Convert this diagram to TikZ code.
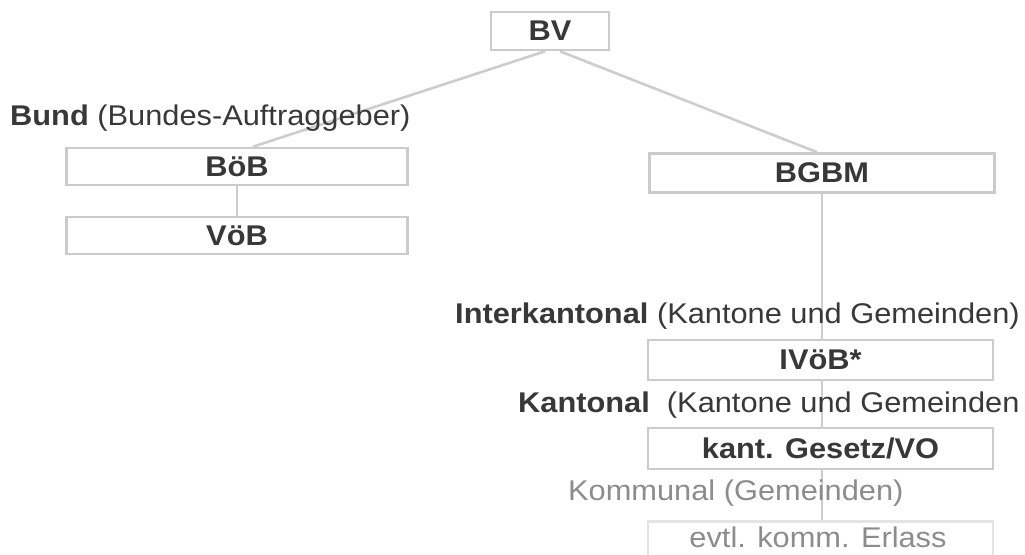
\documentclass[tikz,border=0pt]{standalone}
\usepackage{fontspec}
\setmainfont{Liberation Sans}[FakeStretch=1.08]
\usetikzlibrary{calc}
\definecolor{txt}{HTML}{383838}
\definecolor{lighttxt}{HTML}{8C8C8C}
\definecolor{frame}{HTML}{CBCBCB}
\definecolor{paleframe}{HTML}{E4E4E4}
\definecolor{conn}{HTML}{CDCDCD}
\tikzset{
  lawbox/.style={draw=frame, line width=2.6pt, fill=white, inner sep=0pt,
    text=txt, font=\fontsize{28.5}{32}\selectfont\bfseries},
  palebox/.style={draw=paleframe, line width=2.6pt, fill=white, inner sep=0pt},
  levellabel/.style={anchor=base west, inner sep=0pt, text=txt,
    font=\fontsize{28.5}{32}\selectfont},
  conline/.style={draw=conn, line width=2.6pt},
}
\begin{document}
\begin{tikzpicture}[x=1pt,y=-1pt]
\useasboundingbox (0,0) rectangle (1025,554);
% boxes
\node[lawbox, minimum width=118pt, minimum height=38pt] (bv) at (550,31) {BV};
\node[lawbox, minimum width=341pt, minimum height=37pt] (bob) at (237,166.5) {BöB};
\node[lawbox, minimum width=341pt, minimum height=37pt] (vob) at (237,235.5) {VöB};
\node[lawbox, minimum width=345pt, minimum height=39pt] (bgbm) at (822,173) {BGBM};
\coordinate (lineend) at (822,520);
% connectors (drawn behind lower boxes and labels)
\draw[conline] ([xshift=-5pt]bv.south) -- ([xshift=16pt]bob.north);
\draw[conline] ([xshift=10pt]bv.south) -- ([xshift=-5pt]bgbm.north);
\draw[conline] (bob.south) -- (vob.north);
\draw[conline] (bgbm.south) -- (lineend);
% level labels
\node[levellabel] (bund) at (10,125) {\textbf{Bund} (Bundes-Auftraggeber)};
\node[levellabel] (inter) at (455,323) {\textbf{Interkantonal} (Kantone und Gemeinden)};
\node[lawbox, minimum width=345pt, minimum height=40pt] (ivob) at (820.5,360) {IVöB*};
\node[levellabel] (kant) at (518,412) {\textbf{Kantonal}\ \ (Kantone und Gemeinden};
\node[lawbox, minimum width=345pt, minimum height=41pt] (kgvo) at (820.5,448.5) {kant. Gesetz/VO};
\node[levellabel, text=lighttxt] (komm) at (568,500) {Kommunal (Gemeinden)};
\node[palebox, minimum width=345pt, minimum height=44pt, anchor=north] (erlass) at (820.5,520) {};
\node[anchor=base, inner sep=0pt, text=lighttxt, font=\fontsize{28.5}{32}\selectfont] (erlasstxt) at (818,547) {evtl. komm. Erlass};
\end{tikzpicture}
\end{document}
